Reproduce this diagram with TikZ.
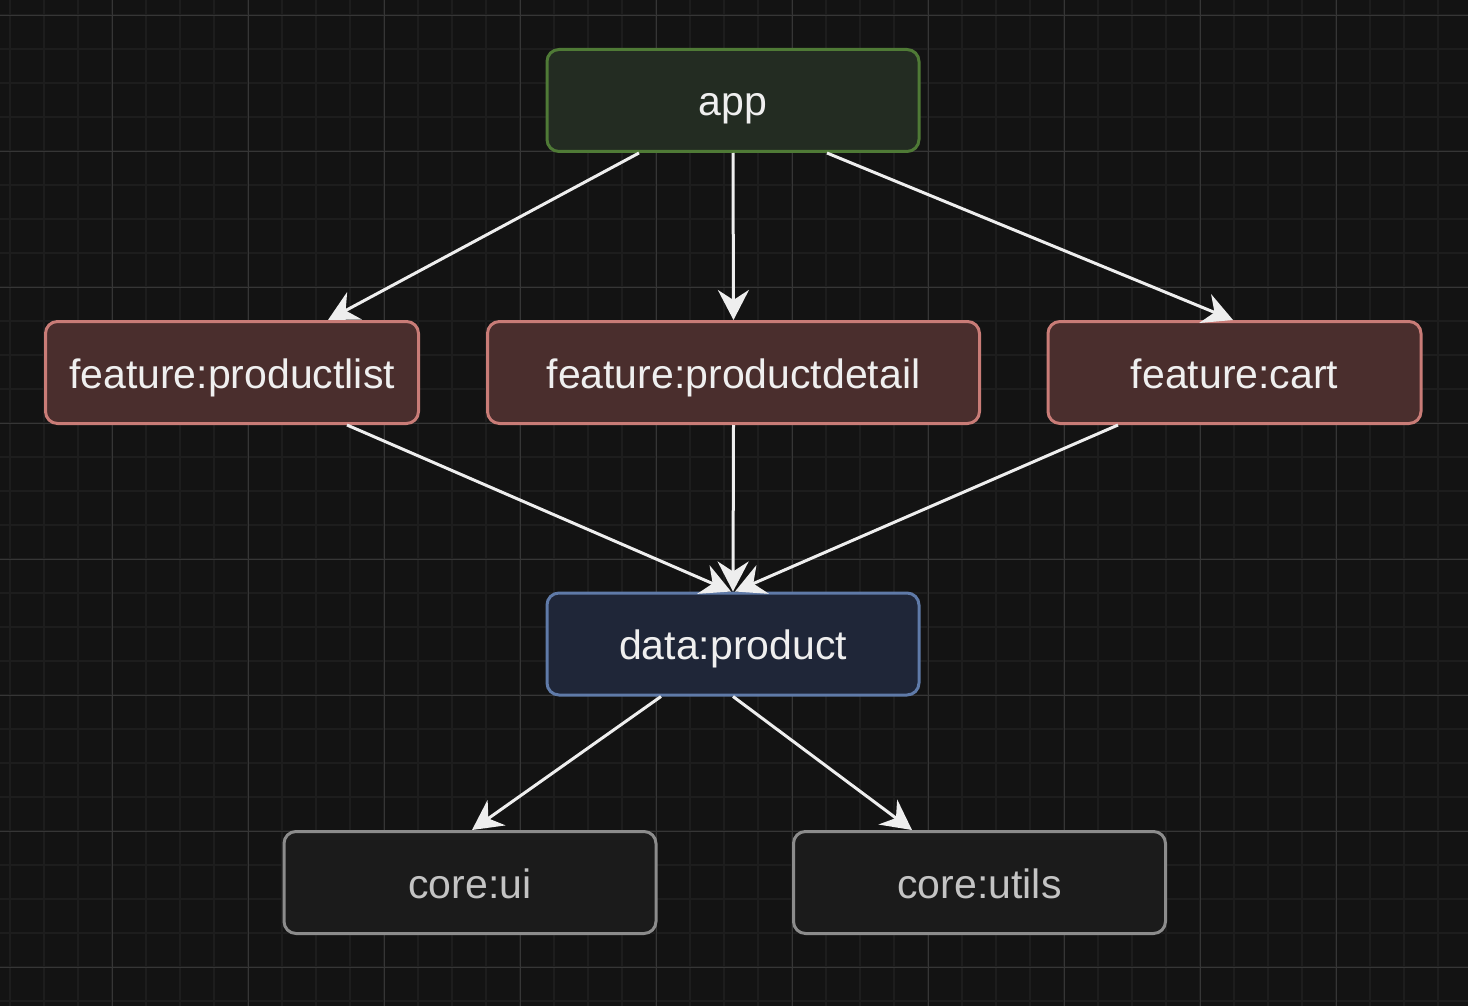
\documentclass[tikz,border=0pt]{standalone}
\usepackage{fontspec}
\setmainfont{Liberation Sans}
\usetikzlibrary{arrows.meta}
\definecolor{bgc}{HTML}{131313}
\definecolor{gminor}{HTML}{1D1D1D}
\definecolor{gmajor}{HTML}{363636}
\definecolor{appfill}{HTML}{232C22}
\definecolor{appdraw}{HTML}{4F7A36}
\definecolor{featfill}{HTML}{4A2E2D}
\definecolor{featdraw}{HTML}{C97C77}
\definecolor{datafill}{HTML}{1F2638}
\definecolor{datadraw}{HTML}{5F7AA8}
\definecolor{corefill}{HTML}{1B1B1B}
\definecolor{coredraw}{HTML}{8C8C8C}
\definecolor{coretext}{HTML}{C4C4C4}
\definecolor{lighttext}{HTML}{EFEFEF}
\definecolor{edgec}{HTML}{EEEEEE}
\tikzset{
  box/.style={rectangle, rounded corners=12pt, line width=3pt, minimum height=102pt,
    inner sep=0pt, text height=31pt, text depth=0pt,
    font=\fontsize{41}{48}\selectfont, text=lighttext},
  appbox/.style={box, draw=appdraw, fill=appfill, minimum width=372pt},
  featbox/.style={box, draw=featdraw, fill=featfill},
  databox/.style={box, draw=datadraw, fill=datafill, minimum width=372pt},
  corebox/.style={box, draw=coredraw, fill=corefill, minimum width=372pt, text=coretext},
  edge/.style={draw=edgec, line width=3pt, -{Stealth[length=30pt, width=31pt, inset=10pt]}},
  minorline/.style={draw=gminor, line width=2pt},
  majorline/.style={draw=gmajor, line width=1pt},
}
\begin{document}
\begin{tikzpicture}[x=1pt, y=-1pt]
\useasboundingbox (0,0) rectangle (1468,1006);
\fill[bgc] (0,0) rectangle (1468,1006);
\foreach \i in {0,...,43} { \draw[minorline] ({10.3+34*\i},0) -- ++(0,1006); }
\foreach \i in {0,...,30} { \draw[minorline] (0,{-18.7+34*\i}) -- ++(1468,0); }
\foreach \i in {0,...,11} { \draw[majorline] ({-23.7+136*\i},0) -- ++(0,1006); }
\foreach \i in {0,...,7} { \draw[majorline] (0,{15.3+136*\i}) -- ++(1468,0); }

\node[appbox] (app) at (733,100.5) {app};
\node[featbox, minimum width=373pt] (pl) at (232,372.5) {feature:productlist};
\node[featbox, minimum width=492pt] (pd) at (733.5,372.5) {feature:productdetail};
\node[featbox, minimum width=373pt] (cart) at (1234.5,372.5) {feature:cart};
\node[databox] (data) at (733,644) {data:product};
\node[corebox] (ui) at (470,882.5) {core:ui};
\node[corebox] (utils) at (979.5,882.5) {core:utils};

\draw[edge] ([xshift=-94pt]app.south) -- ([xshift=96pt]pl.north);
\draw[edge] (app.south) -- (pd.north);
\draw[edge] ([xshift=94pt]app.south) -- ([xshift=-1.5pt]cart.north);
\draw[edge] ([xshift=115pt]pl.south) -- ([xshift=-2pt]data.north);
\draw[edge] (pd.south) -- (data.north);
\draw[edge] ([xshift=-116.5pt]cart.south) -- ([xshift=2pt]data.north);
\draw[edge] ([xshift=-72pt]data.south) -- ([xshift=2pt]ui.north);
\draw[edge] (data.south) -- ([xshift=-67.5pt]utils.north);
\end{tikzpicture}
\end{document}
